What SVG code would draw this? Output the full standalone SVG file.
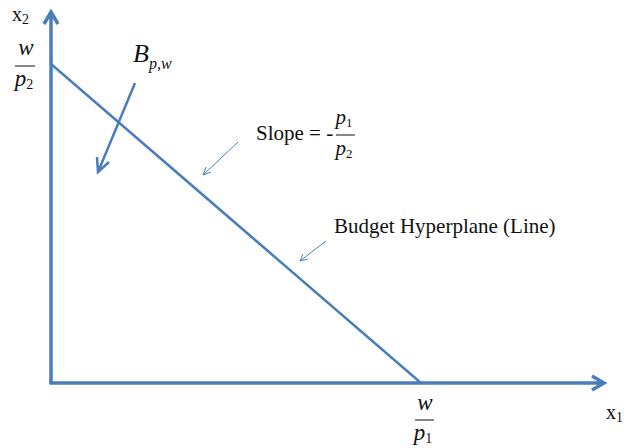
<svg xmlns="http://www.w3.org/2000/svg" width="624" height="448" viewBox="0 0 624 448">
<style>
text{font-family:"Liberation Serif","Times New Roman",serif;fill:#111}
.i{font-style:italic}
.ax{stroke:#4a7ebb;stroke-width:3.5;fill:none}
.ln{stroke:#4a7ebb;stroke-width:2.5;fill:none}
.th{stroke:#4a7ebb;stroke-width:1;fill:none}
.fr{stroke:#111;stroke-width:1}
</style>
<rect width="624" height="448" fill="#fff"/>
<g id="connectors">
<path class="ax" d="M51,384 V12 M44,24 L51,12 L58,24"/>
<path class="ax" d="M49.5,383 H604 M592,376 L604,383 L592,390"/>
<path id="budget-line" class="ln" d="M51,64 L421,383"/>
<path class="ln" d="M135,83 L98,172 M97,157 L98,172 L109,162"/>
<path class="th" d="M238,142 L203,175 M206,167 L203,175 L211,172"/>
<path class="th" d="M326,241 L300,261 M303,254 L300,261 L308,259"/>
</g>
<g id="x2-label"><text x="12" y="21" font-size="20">x<tspan font-size="14" dy="3">2</tspan></text></g>
<g id="w-p2">
<text class="i" x="26" y="55" font-size="23" text-anchor="middle">w</text>
<line class="fr" x1="15" y1="66" x2="35" y2="66"/>
<text class="i" x="24" y="86" font-size="23" text-anchor="middle">p<tspan font-size="14" font-style="normal" dy="3">2</tspan></text>
</g>
<g id="Bpw"><text class="i" x="133" y="62" font-size="26">B<tspan font-size="16" dy="7">p,w</tspan></text></g>
<g id="slope">
<text x="256" y="140" font-size="21">Slope = -</text>
<text class="i" x="344" y="124" font-size="21" text-anchor="middle">p<tspan font-size="13" font-style="normal" dy="3">1</tspan></text>
<line class="fr" x1="336" y1="135" x2="355" y2="135"/>
<text class="i" x="344" y="155" font-size="21" text-anchor="middle">p<tspan font-size="13" font-style="normal" dy="3">2</tspan></text>
</g>
<g id="budget-label"><text x="334" y="233" font-size="21">Budget Hyperplane (Line)</text></g>
<g id="w-p1">
<text class="i" x="425" y="410" font-size="23" text-anchor="middle">w</text>
<line class="fr" x1="415" y1="420" x2="434" y2="420"/>
<text class="i" x="423" y="440" font-size="23" text-anchor="middle">p<tspan font-size="14" font-style="normal" dy="3">1</tspan></text>
</g>
<g id="x1-label"><text x="606" y="419" font-size="20">x<tspan font-size="14" dy="3">1</tspan></text></g>
</svg>
